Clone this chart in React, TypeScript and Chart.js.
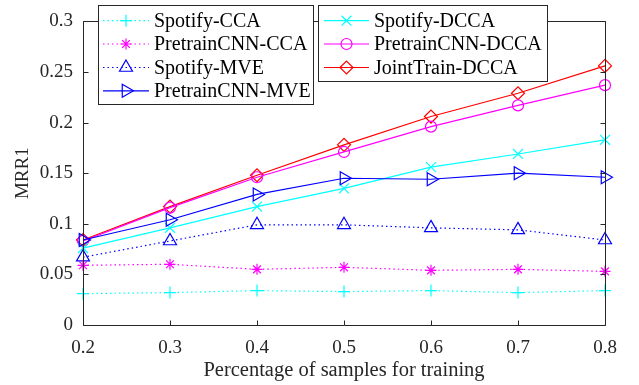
import React, { useEffect, useRef } from 'react';
import { Chart, registerables } from 'chart.js';
import { drawPoint } from 'chart.js/helpers';

Chart.register(...registerables);

const xValues = [0.2, 0.3, 0.4, 0.5, 0.6, 0.7, 0.8];
const spotifyCCA = [0.031, 0.032, 0.034, 0.033, 0.034, 0.032, 0.034];
const pretrainCNNCCA = [0.059, 0.06, 0.055, 0.057, 0.054, 0.055, 0.053];
const spotifyMVE = [0.067, 0.083, 0.099, 0.099, 0.096, 0.094, 0.084];
const pretrainCNNMVE = [0.084, 0.104, 0.129, 0.145, 0.144, 0.15, 0.146];
const spotifyDCCA = [0.076, 0.096, 0.117, 0.135, 0.156, 0.169, 0.183];
const pretrainCNNDCCA = [0.083, 0.116, 0.146, 0.171, 0.196, 0.217, 0.237];
const jointTrainDCCA = [0.084, 0.117, 0.148, 0.178, 0.206, 0.229, 0.256];
const xTicks = [0.2, 0.3, 0.4, 0.5, 0.6, 0.7, 0.8];
const yTicks = [0, 0.05, 0.1, 0.15, 0.2, 0.25, 0.3];
const legendLeft = ['Spotify-CCA', 'PretrainCNN-CCA', 'Spotify-MVE', 'PretrainCNN-MVE'];
const legendRight = ['Spotify-DCCA', 'PretrainCNN-DCCA', 'JointTrain-DCCA'];

const FONT = '"Liberation Serif", "DejaVu Serif", serif';
const AXIS = '#262626';
const DOT = [1.5, 3];

type S = { label: string; data: number[]; color: string; dash: number[]; style: string; radius: number; rotation?: number };

const series: S[] = [
  { label: legendLeft[0], data: spotifyCCA, color: '#00ffff', dash: DOT, style: 'cross', radius: 6 },
  { label: legendLeft[1], data: pretrainCNNCCA, color: '#ff00ff', dash: DOT, style: 'star', radius: 5.5 },
  { label: legendLeft[2], data: spotifyMVE, color: '#0000ff', dash: DOT, style: 'triangle', radius: 7.5 },
  { label: legendLeft[3], data: pretrainCNNMVE, color: '#0000ff', dash: [], style: 'triangle', radius: 7.5, rotation: 90 },
  { label: legendRight[0], data: spotifyDCCA, color: '#00ffff', dash: [], style: 'crossRot', radius: 7 },
  { label: legendRight[1], data: pretrainCNNDCCA, color: '#ff00ff', dash: [], style: 'circle', radius: 5.5 },
  { label: legendRight[2], data: jointTrainDCCA, color: '#ff0000', dash: [], style: 'rectRot', radius: 6.5 },
];

const framePlugin = {
  id: 'frame',
  afterDatasetsDraw(chart: any) {
    const { ctx, chartArea: a, scales } = chart;
    ctx.save();
    ctx.strokeStyle = AXIS;
    ctx.lineWidth = 1;
    ctx.setLineDash([]);
    ctx.beginPath();
    const L = Math.round(a.left) + 0.5, R = Math.round(a.right) + 0.5;
    const T = Math.round(a.top) + 0.5, B = Math.round(a.bottom) + 0.5;
    ctx.rect(L, T, R - L, B - T);
    const tl = 5;
    xTicks.forEach((v) => {
      const x = Math.round(scales.x.getPixelForValue(v)) + 0.5;
      ctx.moveTo(x, B); ctx.lineTo(x, B - tl);
      ctx.moveTo(x, T); ctx.lineTo(x, T + tl);
    });
    yTicks.forEach((v) => {
      const y = Math.round(scales.y.getPixelForValue(v)) + 0.5;
      ctx.moveTo(L, y); ctx.lineTo(L + tl, y);
      ctx.moveTo(R, y); ctx.lineTo(R - tl, y);
    });
    ctx.stroke();
    ctx.restore();
  },
  afterDraw(chart: any) {
    const { ctx } = chart;
    const drawBox = (items: S[], bx: number, by: number, bw: number, bh: number, rows: number[], l0: number, l1: number, tx: number) => {
      ctx.save();
      ctx.fillStyle = '#ffffff';
      ctx.fillRect(bx, by, bw, bh);
      ctx.strokeStyle = AXIS;
      ctx.lineWidth = 1;
      ctx.strokeRect(bx + 0.5, by + 0.5, bw, bh);
      items.forEach((s, i) => {
        const y = rows[i];
        ctx.strokeStyle = s.color;
        ctx.lineWidth = 1.2;
        ctx.setLineDash(s.dash);
        ctx.beginPath();
        ctx.moveTo(l0, y);
        ctx.lineTo(l1, y);
        ctx.stroke();
        ctx.setLineDash([]);
        ctx.fillStyle = 'rgba(0,0,0,0)';
        drawPoint(ctx, { pointStyle: s.style as any, radius: s.radius, rotation: s.rotation || 0, borderWidth: 1.2 } as any, (l0 + l1) / 2, y);
        ctx.fillStyle = '#000000';
        ctx.font = `20px ${FONT}`;
        ctx.textBaseline = 'middle';
        ctx.textAlign = 'left';
        ctx.fillText(s.label, tx, y + 1);
      });
      ctx.restore();
    };
    drawBox(series.slice(0, 4), 98, 5, 215, 99, [20.7, 44, 67.5, 90.8], 103, 149, 154);
    drawBox(series.slice(4), 318, 5, 229, 76, [20.7, 44, 67.5], 324, 369, 374);
  },
};

export default function App() {
  const ref = useRef<HTMLCanvasElement | null>(null);
  useEffect(() => {
    document.body.style.margin = '0';
    const canvas = ref.current!;
    const chart = new Chart(canvas, {
      type: 'line',
      data: {
        datasets: series.map((s) => ({
          label: s.label,
          data: s.data.map((v, i) => ({ x: xValues[i], y: v })),
          borderColor: s.color,
          backgroundColor: 'rgba(0,0,0,0)',
          borderWidth: 1.2,
          borderDash: s.dash,
          pointStyle: s.style as any,
          pointRadius: s.radius,
          pointRotation: s.rotation || 0,
          pointBorderWidth: 1.2,
          pointBorderColor: s.color,
          pointBackgroundColor: 'rgba(0,0,0,0)',
          tension: 0,
          clip: false as any,
        })),
      },
      plugins: [framePlugin],
      options: {
        animation: false,
        responsive: false,
        maintainAspectRatio: false,
        events: [],
        layout: { padding: { top: 11, right: 34, left: 0, bottom: 0 } },
        plugins: { legend: { display: false }, tooltip: { enabled: false } },
        scales: {
          x: {
            type: 'linear',
            min: 0.2,
            max: 0.8,
            afterFit: (s: any) => { s.height = 60; },
            afterBuildTicks: (s: any) => { s.ticks = xTicks.map((v) => ({ value: v })); },
            grid: { display: false, drawTicks: false },
            border: { display: false },
            ticks: { color: AXIS, font: { family: FONT, size: 19 }, padding: 12, maxRotation: 0, callback: (v: any) => String(v) },
            title: { display: true, text: 'Percentage of samples for training', color: AXIS, font: { family: FONT, size: 20.5 }, padding: { top: 0, bottom: 2 } },
          },
          y: {
            type: 'linear',
            min: 0,
            max: 0.3,
            afterFit: (s: any) => { s.width = 83; },
            afterBuildTicks: (s: any) => { s.ticks = yTicks.map((v) => ({ value: v })); },
            grid: { display: false, drawTicks: false },
            border: { display: false },
            ticks: { color: AXIS, font: { family: FONT, size: 19 }, padding: 10, callback: (v: any) => String(v) },
            title: { display: true, text: 'MRR1', color: AXIS, font: { family: FONT, size: 19 }, padding: { top: 12, bottom: 0 } },
          },
        },
      },
    });
    return () => chart.destroy();
  }, []);
  return <canvas ref={ref} width={639} height={385} style={{ display: 'block', width: 639, height: 385 }} />;
}
